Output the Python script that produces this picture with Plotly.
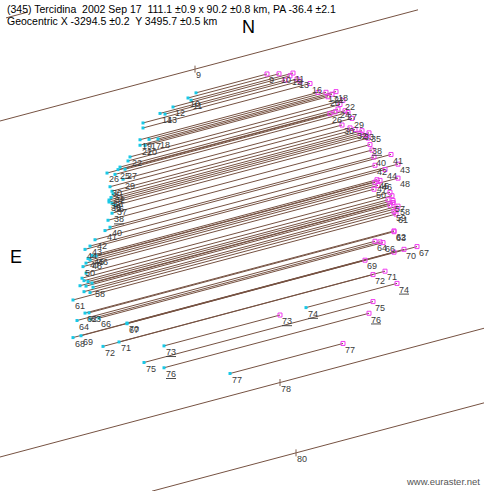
import plotly.graph_objects as go

# ---- data (plot units: 1 unit ~ 1 px of the original sketch) ----
TRACK_SLOPE = -0.266          # shadow track direction

# observed chords: label, track offset, start x (disappearance side), end x
chord_labels = ["9", "10", "11", "12", "14", "13", "15", "16", "19", "17", "18", "21", "20",
                "22", "23", "24", "25", "26", "27", "28", "29", "30", "31", "32", "33", "34",
                "35", "36", "37", "38", "39", "40", "41", "42", "43", "44", "45", "46", "47",
                "48", "49", "50", "51", "52", "53", "54", "55", "56", "57", "58", "59", "60",
                "61", "62", "63", "64", "65", "66", "67", "68", "69", "70", "71", "72", "73",
                "74", "75", "76", "77"]
chord_offset = [145, 148, 151, 153, 156, 158, 161, 166, 177, 179, 181, 182.5, 184,
                191.5, 195, 199, 201, 201.5, 202.5, 205, 212, 216, 221, 224, 227, 229,
                231, 233, 236, 243, 249, 256.5, 258.5, 265, 270, 272, 280, 281.5, 282,
                284, 286, 288.7, 296, 300, 303, 305, 307, 309, 307.5, 312, 316.5, 314,
                319.4, 335.7, 336.5, 341, 343, 344.5, 357.5, 357, 357.3, 356.8, 373.6, 373.8, 389.5,
                389, 400.8, 411.4, 434.7]
chord_start = [196, 188, 191, 173, 160, 165, 143, 143, 140, 149, 158, 140, 145,
               130, 128, 120, 118, 107, 125, 115, 123, 110, 112, 113, 111, 109,
               109, 112, 115, 112, 108, 110, 105, 95, 90, 85, 92, 96, 88,
               90, 86, 83, 86, 82, 84, 88, 80, 86, 92, 93, 90, 84,
               73, 85, 89, 77, 90, 99, 127, 73, 81, 127, 119, 103, 164,
               306, 144, 164, 230]
chord_end = [267, 279, 293, 290, 285, 297, 300, 310, 318, 326, 336, 332, 328,
             343, 340, 338, 335, 330, 345, 348, 352, 342, 350, 355, 362, 360,
             369, 366, 368, 370, 372, 374, 391, 375, 398, 385, 377, 380, 375,
             398, 378, 374, 390, 392, 388, 393, 393, 390, 393, 398, 394, 396,
             396, 394, 394, 375, 380, 383, 417, 394, 365, 404, 385, 373, 280,
             397, 373, 369, 343]
underlined = {"38", "73", "74", "76"}
hide_end_label = {"68", "14", "15", "19", "23", "25", "28", "31", "34", "36", "37", "39",
                  "49", "51", "52", "53", "54", "55", "56", "60", "65"}
hide_start_label = {"9", "15", "16", "23", "24", "28", "39", "49", "51", "52", "53", "54",
                    "55", "56", "57", "59", "60", "65"}

# miss chords (no occultation): label, offset, x from, x to, label x
miss_labels = ["9", "78", "80", ""]
miss_offset = [121, 457, 531.6, 19.5]
miss_from = [0, 0, 152, 6]
miss_to = [418, 484, 484, 28]
miss_label_x = [195, 280, 296, None]

title_1 = "(345) Tercidina  2002 Sep 17  111.1 \u00b10.9 x 90.2 \u00b10.8 km, PA -36.4 \u00b12.1"
title_2 = "Geocentric X -3294.5 \u00b10.2  Y 3495.7 \u00b10.5 km"


def track_y(offset, x):
    return offset + TRACK_SLOPE * x


LINE_COLOR = "rgb(118,82,66)"
fig = go.Figure()

# chord lines
lx, ly = [], []
for b, x1, x2 in zip(chord_offset, chord_start, chord_end):
    lx += [x1, x2, None]
    ly += [track_y(b, x1), track_y(b, x2), None]
for b, x1, x2 in zip(miss_offset, miss_from, miss_to):
    lx += [x1, x2, None]
    ly += [track_y(b, x1), track_y(b, x2), None]
fig.add_trace(go.Scatter(x=lx, y=ly, mode="lines",
                         line=dict(color=LINE_COLOR, width=1), hoverinfo="skip"))

# start / end markers
fig.add_trace(go.Scatter(x=chord_start, y=[track_y(b, x) for b, x in zip(chord_offset, chord_start)],
                         mode="markers", marker=dict(symbol="square", size=3, color="#19c8e6"),
                         hoverinfo="skip"))
fig.add_trace(go.Scatter(x=chord_end, y=[track_y(b, x) for b, x in zip(chord_offset, chord_end)],
                         mode="markers",
                         marker=dict(symbol="square-open", size=4, color="#f03cf0",
                                     line=dict(width=1, color="#f03cf0")),
                         hoverinfo="skip"))
# miss markers
mx = [x for x in miss_label_x if x is not None]
my = [track_y(b, x) for b, x in zip(miss_offset, miss_label_x) if x is not None]
fig.add_trace(go.Scatter(x=mx, y=my, mode="markers",
                         marker=dict(symbol="line-ns", size=5, color="#806050",
                                     line=dict(width=1, color="#806050")), hoverinfo="skip"))


def fmt(lbl):
    if lbl in underlined:
        return '<span style="text-decoration:underline">' + lbl + '</span>'
    return lbl


tx, ty, tt = [], [], []
for lbl, b, x1, x2 in zip(chord_labels, chord_offset, chord_start, chord_end):
    if lbl not in hide_start_label:
        tx.append(x1 + 2)
        ty.append(track_y(b, x1) + 7)
        tt.append(fmt(lbl))
    if lbl not in hide_end_label:
        tx.append(x2 + 2)
        ty.append(track_y(b, x2) + 7)
        tt.append(fmt(lbl))
for lbl, b, x in zip(miss_labels, miss_offset, miss_label_x):
    if x is not None:
        tx.append(x + 1)
        ty.append(track_y(b, x) + 7)
        tt.append(lbl)
fig.add_trace(go.Scatter(x=tx, y=ty, mode="text", text=tt, textposition="middle right",
                         textfont=dict(family="Liberation Sans, Arial", size=9, color="#3a3a3a"),
                         hoverinfo="skip"))

fig.add_annotation(x=5, y=1, xref="x", yref="y", text=title_1, showarrow=False,
                   xanchor="left", yanchor="top",
                   font=dict(family="Liberation Sans, Arial", size=10.5, color="black"))
fig.add_annotation(x=5, y=13, xref="x", yref="y", text=title_2, showarrow=False,
                   xanchor="left", yanchor="top",
                   font=dict(family="Liberation Sans, Arial", size=10.5, color="black"))
fig.add_annotation(x=248, y=27, xref="x", yref="y", text="N", showarrow=False,
                   font=dict(family="Liberation Sans, Arial", size=18, color="black"))
fig.add_annotation(x=16, y=257, xref="x", yref="y", text="E", showarrow=False,
                   font=dict(family="Liberation Sans, Arial", size=18, color="black"))
fig.add_annotation(x=482, y=481, xref="x", yref="y", text="www.euraster.net", showarrow=False,
                   xanchor="right",
                   font=dict(family="Liberation Sans, Arial", size=9.5, color="#555"))

fig.update_layout(
    width=484, height=491, margin=dict(l=0, r=0, t=0, b=0),
    paper_bgcolor="white", plot_bgcolor="white", showlegend=False,
    xaxis=dict(range=[0, 484], visible=False, fixedrange=True),
    yaxis=dict(range=[491, 0], visible=False, fixedrange=True),
)
fig.write_html("out.html", config={"displayModeBar": False},
               post_script="document.body.style.margin='0';document.body.style.overflow='hidden';")
